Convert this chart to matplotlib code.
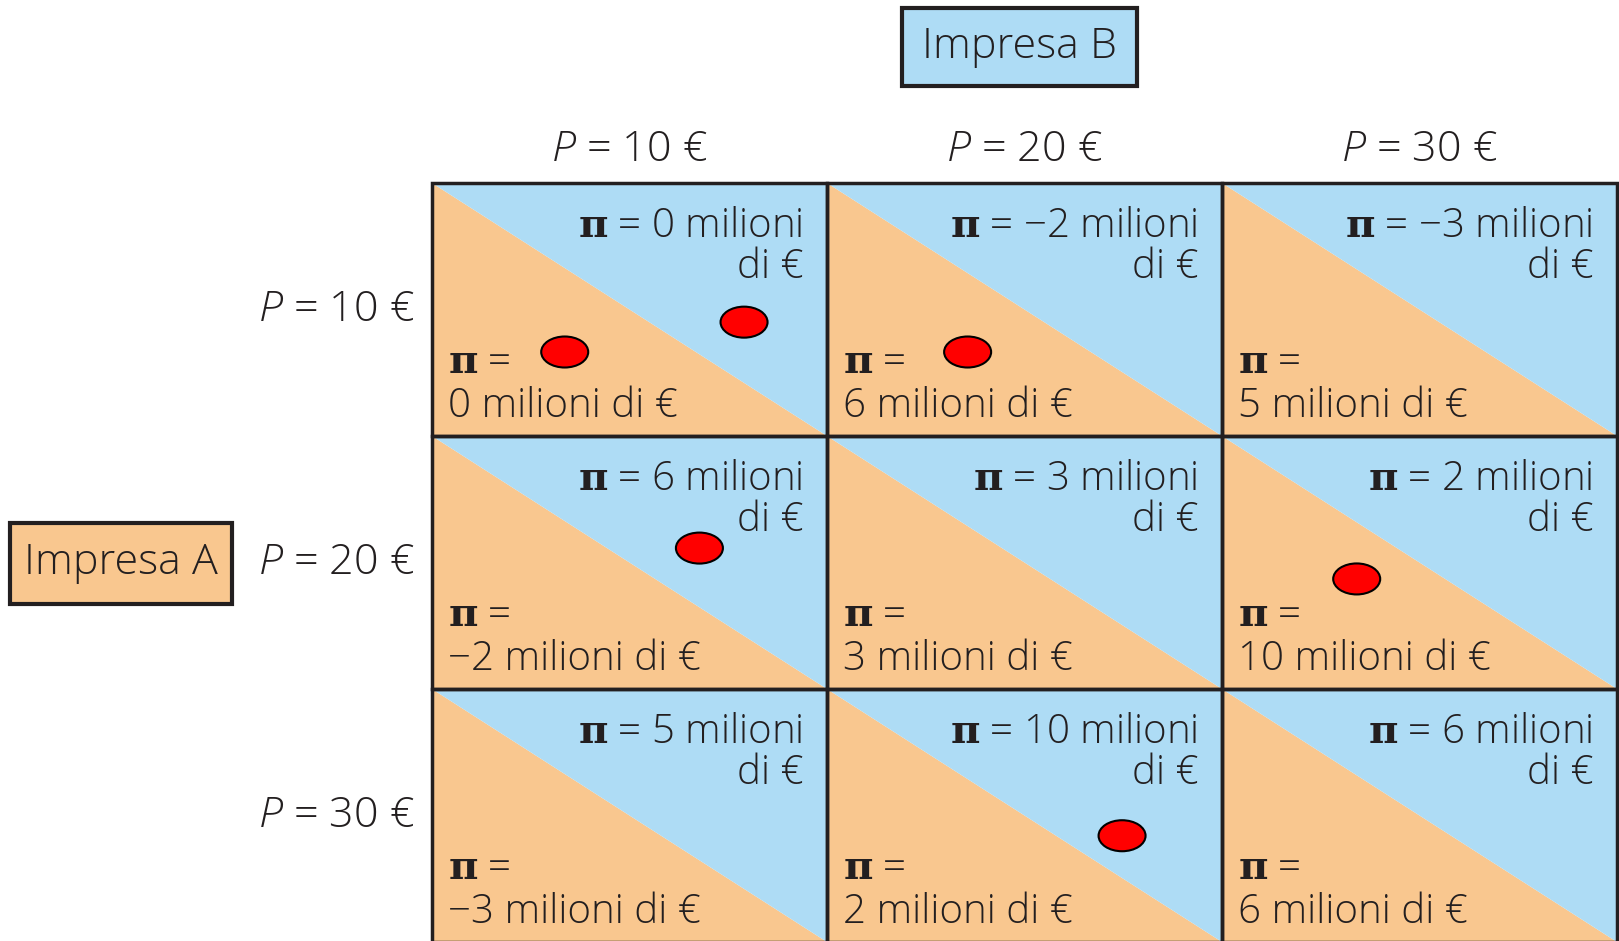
import matplotlib.pyplot as plt
from matplotlib.patches import Polygon, Rectangle, Ellipse

plt.rcParams['font.family'] = ['Open Sans', 'DejaVu Sans']
plt.rcParams['font.weight'] = 'light'
plt.rcParams['mathtext.fontset'] = 'custom'
plt.rcParams['mathtext.it'] = 'Open Sans:italic:light'
plt.rcParams['mathtext.rm'] = 'Open Sans:light'
plt.rcParams['mathtext.bf'] = 'DejaVu Serif:bold'

prices = [10, 20, 30]
# profits of firm A (bottom left) and firm B (top right), rows = A price, cols = B price
profit_a = [[0, 6, 5],
            [-2, 3, 10],
            [-3, 2, 6]]
profit_b = [[0, -2, -3],
            [6, 3, 2],
            [5, 10, 6]]
# red marks: (row, col, x fraction in cell, y fraction in cell)
dots = [(0, 0, 0.336, 0.668),
        (0, 0, 0.79, 0.55),
        (0, 1, 0.356, 0.668),
        (1, 0, 0.677, 0.443),
        (1, 2, 0.341, 0.565),
        (2, 1, 0.747, 0.58)]

BLUE = '#aedcf5'
ORANGE = '#f9c78f'
INK = '#231f20'
FS = 29

X0, Y0, CW, CH = 432, 183, 395, 253


def num(v):
    return str(v).replace('-', '\u2212')


fig = plt.figure(figsize=(16.19, 9.41), dpi=100)
ax = fig.add_axes([0, 0, 1, 1])
ax.set_xlim(0, 1619)
ax.set_ylim(941, 0)
ax.axis('off')

for r in range(3):
    for c in range(3):
        x = X0 + c * CW
        y = Y0 + r * CH
        ax.add_patch(Polygon([(x, y), (x, y + CH), (x + CW, y + CH)],
                             closed=True, fc=ORANGE, ec='none'))
        ax.add_patch(Polygon([(x, y), (x + CW, y), (x + CW, y + CH)],
                             closed=True, fc=BLUE, ec='none'))
        ax.add_patch(Rectangle((x, y), CW, CH, fc='none', ec=INK, lw=2.5, zorder=3))
        # firm B payoff
        ax.text(x + CW - 24, y + 54, r'$\mathbf{\pi}$ = ' + num(profit_b[r][c]) + ' milioni',
                ha='right', va='baseline', fontsize=FS, color=INK)
        ax.text(x + CW - 24, y + 95, 'di €', ha='right', va='baseline',
                fontsize=FS, color=INK)
        # firm A payoff
        ax.text(x + 16, y + 190, r'$\mathbf{\pi}$ =', ha='left', va='baseline',
                fontsize=FS, color=INK)
        ax.text(x + 16, y + 234, num(profit_a[r][c]) + ' milioni di €',
                ha='left', va='baseline', fontsize=FS, color=INK)

for r, c, fx, fy in dots:
    ax.add_patch(Ellipse((X0 + (c + fx) * CW, Y0 + (r + fy) * CH), 47, 31,
                         fc='#ff0000', ec='black', lw=1.5, zorder=4))

for i, p in enumerate(prices):
    ax.text(X0 + (i + 0.5) * CW, 150, r'$P$ = %d €' % p, ha='center', va='center',
            fontsize=31, color=INK)
    ax.text(414, Y0 + (i + 0.5) * CH, r'$P$ = %d €' % p, ha='right', va='center',
            fontsize=31, color=INK)

ax.add_patch(Rectangle((902, 8), 235, 78, fc=BLUE, ec=INK, lw=3))
ax.text(1019, 47, 'Impresa B', ha='center', va='center', fontsize=31, color=INK)
ax.add_patch(Rectangle((10, 523), 222, 81, fc=ORANGE, ec=INK, lw=3))
ax.text(121, 563, 'Impresa A', ha='center', va='center', fontsize=31, color=INK)

fig.savefig('out.png', dpi=100)
